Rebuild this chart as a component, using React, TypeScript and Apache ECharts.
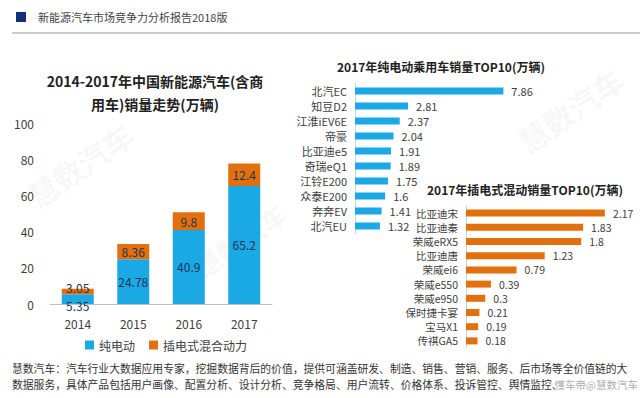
import React, { useEffect, useRef } from "react";
import * as echarts from "echarts";

const years = ["2014", "2015", "2016", "2017"];
const bevSales = [5.35, 24.78, 40.9, 65.2];
const phevSales = [3.05, 8.36, 9.8, 12.4];
const yTicks = [0, 20, 40, 60, 80, 100];

const bevModels = ["北汽EC", "知豆D2", "江淮iEV6E", "帝豪", "比亚迪e5", "奇瑞eQ1", "江铃E200", "众泰E200", "奔奔EV", "北汽EU"];
const bevModelSales = [7.86, 2.81, 2.37, 2.04, 1.91, 1.89, 1.75, 1.6, 1.41, 1.32];

const phevModels = ["比亚迪宋", "比亚迪秦", "荣威eRX5", "比亚迪唐", "荣威ei6", "荣威e550", "荣威e950", "保时捷卡宴", "宝马X1", "传祺GA5"];
const phevModelSales = [2.17, 1.83, 1.8, 1.23, 0.79, 0.39, 0.3, 0.21, 0.19, 0.18];

const FONT = "'Noto Sans CJK SC', 'Noto Sans', sans-serif";
const BLUE = "#1ba9e6";
const ORANGE = "#e3700f";
const TXT = "#404040";

export default function App() {
  const ref = useRef<HTMLDivElement>(null);
  useEffect(() => {
    if (!ref.current) return;
    const chart = echarts.init(ref.current, null, { renderer: "svg" });
    const wm = (x: number, y: number, size: number) => ({
      type: "text",
      x,
      y,
      rotation: (35 * Math.PI) / 180,
      silent: true,
      z: 0,
      style: { text: "慧数汽车", fontSize: size, fontWeight: "bold", fill: "rgba(0,0,0,0.05)", fontFamily: FONT, align: "center", verticalAlign: "middle" },
    });
    chart.setOption({
      animation: false,
      textStyle: { fontFamily: FONT },
      title: [
        {
          text: "2014-2017年中国新能源汽车(含商\n用车)销量走势(万辆)",
          left: 150,
          top: 64,
          textAlign: "center",
          textStyle: { fontSize: 14, fontWeight: "bold", color: "#222", lineHeight: 23, fontFamily: FONT },
        },
        {
          text: "2017年纯电动乘用车销量TOP10(万辆)",
          left: 436,
          top: 55,
          textAlign: "center",
          textStyle: { fontSize: 12, fontWeight: "bold", color: "#222", fontFamily: FONT },
        },
        {
          text: "2017年插电式混动销量TOP10(万辆)",
          left: 520,
          top: 178,
          textAlign: "center",
          textStyle: { fontSize: 12, fontWeight: "bold", color: "#222", fontFamily: FONT },
        },
      ],
      legend: {
        data: ["纯电动", "插电式混合动力"],
        left: 80,
        top: 334,
        itemWidth: 9,
        itemHeight: 9,
        itemGap: 14,
        icon: "rect",
        textStyle: { fontSize: 12, color: TXT, fontFamily: FONT },
      },
      grid: [
        { left: 50, top: 123, width: 222, height: 181 },
        { left: 355, top: 83.5, width: 151, height: 150 },
        { left: 466, top: 206, width: 160, height: 142 },
      ],
      xAxis: [
        {
          type: "category",
          gridIndex: 0,
          data: years,
          axisTick: { show: false },
          axisLine: { lineStyle: { color: "#bfbfbf" } },
          axisLabel: { fontSize: 12, color: TXT, margin: 13 },
        },
        { type: "value", gridIndex: 1, min: 0, max: 8, show: false },
        { type: "value", gridIndex: 2, min: 0, max: 2.5, show: false },
      ],
      yAxis: [
        {
          type: "value",
          gridIndex: 0,
          min: yTicks[0],
          max: yTicks[yTicks.length - 1],
          interval: 20,
          splitLine: { show: false },
          axisLine: { show: false },
          axisTick: { show: false },
          axisLabel: { fontSize: 12, color: TXT, margin: 16 },
        },
        {
          type: "category",
          gridIndex: 1,
          data: bevModels,
          inverse: true,
          axisTick: { show: false },
          axisLine: { lineStyle: { color: "#d0d0d0" } },
          axisLabel: { fontSize: 11, lineHeight: 13, color: TXT, margin: 8, interval: 0 },
        },
        {
          type: "category",
          gridIndex: 2,
          data: phevModels,
          inverse: true,
          axisTick: { show: false },
          axisLine: { lineStyle: { color: "#d0d0d0" } },
          axisLabel: { fontSize: 10.5, lineHeight: 12, color: TXT, margin: 8, interval: 0 },
        },
      ],
      series: [
        {
          name: "纯电动",
          type: "bar",
          stack: "total",
          xAxisIndex: 0,
          yAxisIndex: 0,
          barWidth: 32,
          itemStyle: { color: BLUE },
          data: bevSales.map((v, i) => (i === 0 ? { value: v, label: { offset: [0, 6] } } : v)),
          label: { show: true, position: "inside", fontSize: 12, color: "#1f3550" },
        },
        {
          name: "插电式混合动力",
          type: "bar",
          stack: "total",
          xAxisIndex: 0,
          yAxisIndex: 0,
          barWidth: 32,
          itemStyle: { color: ORANGE },
          data: phevSales.map((v, i) => (i === 0 ? { value: v, label: { offset: [0, -4] } } : v)),
          label: { show: true, position: "inside", fontSize: 12, color: "#1f3550" },
        },
        {
          type: "bar",
          xAxisIndex: 1,
          yAxisIndex: 1,
          barWidth: 7,
          itemStyle: { color: BLUE },
          data: bevModelSales,
          label: { show: true, position: "right", distance: 8, fontSize: 11, lineHeight: 13, color: TXT },
        },
        {
          type: "bar",
          xAxisIndex: 2,
          yAxisIndex: 2,
          barWidth: 7,
          itemStyle: { color: ORANGE },
          data: phevModelSales,
          label: { show: true, position: "right", distance: 8, fontSize: 10.5, lineHeight: 12, color: TXT },
        },
      ],
      graphic: [
        { type: "rect", shape: { x: 16, y: 12, width: 10, height: 10 }, style: { fill: "#13307a" } },
        {
          type: "text",
          x: 38,
          y: 17,
          style: { text: "新能源汽车市场竞争力分析报告2018版", fontSize: 11, fill: "#444", fontFamily: FONT, verticalAlign: "middle" },
        },
        { type: "line", shape: { x1: 12, y1: 33, x2: 640, y2: 33 }, style: { stroke: "#8d9aa5", lineWidth: 1 } },
        wm(80, 165, 30),
        wm(570, 110, 30),
        wm(240, 240, 26),
        {
          type: "text",
          x: 12,
          y: 368,
          style: {
            text: "慧数汽车：汽车行业大数据应用专家，挖掘数据背后的价值，提供可涵盖研发、制造、销售、营销、服务、后市场等全价值链的大",
            fontSize: 10.8,
            fill: "#333",
            fontFamily: FONT,
            verticalAlign: "middle",
          },
        },
        {
          type: "text",
          x: 12,
          y: 384,
          style: {
            text: "数据服务，具体产品包括用户画像、配置分析、设计分析、竞争格局、用户流转、价格体系、投诉管控、舆情监控、",
            fontSize: 10.8,
            fill: "#333",
            fontFamily: FONT,
            verticalAlign: "middle",
          },
        },
        {
          type: "text",
          x: 638,
          y: 384,
          style: {
            text: "懂车帝@慧数汽车",
            fontSize: 10.5,
            fill: "rgba(150,150,150,0.8)",
            fontFamily: FONT,
            align: "right",
            verticalAlign: "middle",
          },
        },
      ],
    });
    return () => chart.dispose();
  }, []);
  return <div ref={ref} style={{ width: 640, height: 398, position: "absolute", left: 0, top: 0 }} />;
}
